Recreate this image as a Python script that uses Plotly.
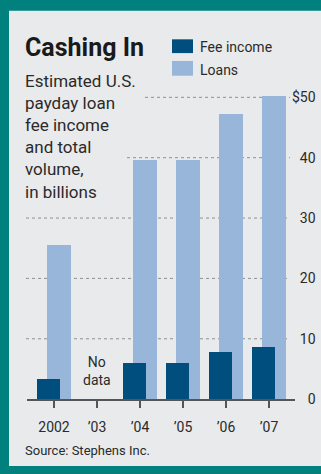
import plotly.graph_objects as go

# ---- data ----
years = ["2002", "\u201903", "\u201904", "\u201905", "\u201906", "\u201907"]
fee_income = [3.3, None, 6.0, 6.0, 7.8, 8.6]
loans = [25.5, None, 39.6, 39.6, 47.2, 50.2]
y_ticks = [0, 10, 20, 30, 40, 50]
y_tick_text = ["\u2007\u20070", "\u200710", "\u200720", "\u200730", "\u200740", "$50"]

W, H = 321, 474
TEAL = "#00817e"
BG = "#e9eaec"
FEE_C = "#004e7e"
LOAN_C = "#98b5da"
TXT = "#2a2a2a"
FONT = "Roboto"

x_idx = list(range(len(years)))

fig = go.Figure()
fig.add_trace(go.Bar(x=x_idx, y=loans, name="Loans", marker_color=LOAN_C,
                     marker_line_width=0, width=0.55, offset=-0.16, showlegend=False))
fig.add_trace(go.Bar(x=x_idx, y=fee_income, name="Fee income", marker_color=FEE_C,
                     marker_line_width=0, width=0.55, offset=-0.40, showlegend=False))

def px(x):
    return x / W

def py(y):
    return 1 - y / H

shapes = []
# panel background
shapes.append(dict(type="rect", xref="paper", yref="paper", x0=px(9), x1=1.0, y0=0, y1=py(11),
                   fillcolor=BG, line_width=0, layer="below"))
# dotted gridlines
grid_x0 = {10: 26, 20: 26, 30: 26, 40: 127, 50: 145}
for v, x0 in grid_x0.items():
    shapes.append(dict(type="line", xref="paper", yref="y", x0=px(x0), x1=px(290), y0=v, y1=v,
                       line=dict(color="#8f9091", width=1, dash="dot"), layer="below"))
# legend swatches
shapes.append(dict(type="rect", xref="paper", yref="paper", x0=px(172), x1=px(193), y0=py(54), y1=py(40),
                   fillcolor=FEE_C, line_width=0))
shapes.append(dict(type="rect", xref="paper", yref="paper", x0=px(172), x1=px(193), y0=py(77), y1=py(62),
                   fillcolor=LOAN_C, line_width=0))

ann = []
ann.append(dict(text="<b>Cashing In</b>", xref="paper", yref="paper", x=px(23), y=py(32),
                xanchor="left", yanchor="top", showarrow=False,
                font=dict(family=FONT, size=25, color="#1a1a1a")))
ann.append(dict(text="Estimated U.S.<br>payday loan<br>fee income<br>and total<br>volume,<br>in billions",
                xref="paper", yref="paper", x=px(23), y=py(70), xanchor="left", yanchor="top",
                align="left", showarrow=False, font=dict(family=FONT, size=17, color=TXT)))
ann.append(dict(text="Fee income", xref="paper", yref="paper", x=px(198), y=py(48),
                xanchor="left", yanchor="middle", showarrow=False,
                font=dict(family=FONT, size=14, color=TXT)))
ann.append(dict(text="Loans", xref="paper", yref="paper", x=px(198), y=py(71),
                xanchor="left", yanchor="middle", showarrow=False,
                font=dict(family=FONT, size=14, color=TXT)))
ann.append(dict(text="No<br>data", xref="x", yref="y", x=1, y=4.7,
                xanchor="center", yanchor="middle", showarrow=False,
                font=dict(family=FONT, size=14, color=TXT)))
ann.append(dict(text="Source: Stephens Inc.", xref="paper", yref="paper", x=px(23), y=py(458),
                xanchor="left", yanchor="middle", showarrow=False,
                font=dict(family=FONT, size=13, color=TXT)))

# axis mapping
x_left, x_right = 27, 295
ppu_x = 43.0
r0 = -(54 - x_left) / ppu_x
r1 = r0 + (x_right - x_left) / ppu_x
y_zero, y_50 = 406, 99
ppu_y = (y_zero - y_50) / 50
ytop = y_zero / ppu_y

fig.update_layout(
    width=W, height=H, margin=dict(l=0, r=0, t=0, b=0),
    paper_bgcolor=TEAL, plot_bgcolor="rgba(0,0,0,0)",
    barmode="overlay", bargap=0,
    shapes=shapes, annotations=ann,
    font=dict(family=FONT, color=TXT),
    xaxis=dict(domain=[px(x_left), px(x_right)], range=[r0, r1], tickmode="array",
               tickvals=x_idx, ticktext=years, showgrid=False, zeroline=False,
               showline=True, linecolor="#555555", linewidth=1.5,
               ticks="outside", ticklen=7, tickcolor="#555555", tickwidth=1.5,
               ticklabelstandoff=7,
               tickfont=dict(family=FONT, size=14, color=TXT)),
    yaxis=dict(domain=[1 - y_zero / H, 1], range=[0, ytop], side="right",
               anchor="free", position=px(291),
               tickmode="array", tickvals=y_ticks, ticktext=y_tick_text,
               showgrid=False, zeroline=False, showline=False, ticks="",
               tickfont=dict(family=FONT, size=14, color=TXT)),
)

fig.write_html("out.html")
